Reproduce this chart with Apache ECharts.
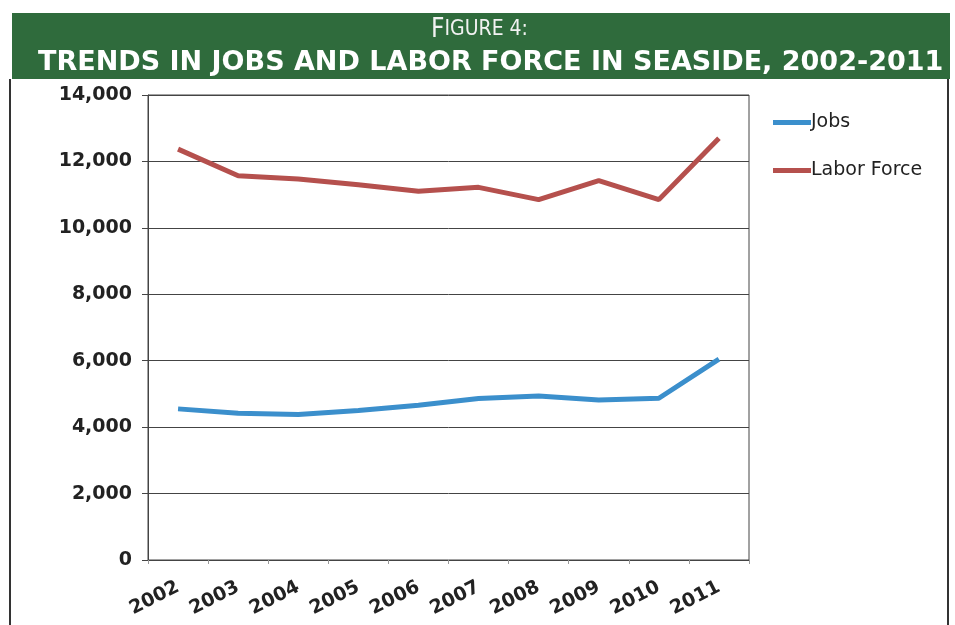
<!DOCTYPE html>
<html><head><meta charset="utf-8">
<script src="https://cdn.jsdelivr.net/npm/echarts@6/dist/echarts.min.js"></script>
<style>html,body{margin:0;padding:0;background:#fff}#c{width:955px;height:625px}</style>
</head><body><div id="c"></div>
<script>
const years = ['2002','2003','2004','2005','2006','2007','2008','2009','2010','2011'];
const jobs = [4550, 4420, 4380, 4500, 4660, 4860, 4940, 4820, 4870, 6050];
const laborForce = [12370, 11570, 11470, 11300, 11100, 11220, 10850, 11420, 10850, 12700];
const yTicks = [0, 2000, 4000, 6000, 8000, 10000, 12000, 14000];

const chart = echarts.init(document.getElementById('c'), null, {renderer:'canvas'});
chart.setOption({
  animation:false,
  backgroundColor:'#fff',
  graphic:[
    {type:'rect', shape:{x:12,y:13,width:938,height:66}, style:{fill:'#2f6b3c'}, z:0},
    {type:'line', shape:{x1:10,y1:79,x2:10,y2:625}, style:{stroke:'#333',lineWidth:2}},
    {type:'line', shape:{x1:948,y1:79,x2:948,y2:625}, style:{stroke:'#333',lineWidth:2}},
    {type:'text', left:431, top:17, z:5, style:{
      text:'{a|F}{b|IGURE 4:}', fill:'#fff',
      rich:{a:{fontFamily:'DejaVu Sans Condensed', fontSize:26, fill:'#f2f2f2'}, b:{fontFamily:'DejaVu Sans Condensed', fontSize:21, fill:'#f2f2f2'}}}},
    {type:'text', left:38, top:49, z:5, style:{
      text:'TRENDS IN JOBS AND LABOR FORCE IN SEASIDE, 2002-2011', fill:'#fff',
      font:'bold 27px "DejaVu Sans"'}}
  ],
  grid:{left:148, right:206, top:95, bottom:65, show:true, borderColor:'#444', borderWidth:1},
  legend:{
    orient:'vertical', left:768, top:108, itemGap:29, itemWidth:38, itemHeight:5,
    icon:'rect',
    textStyle:{fontFamily:'DejaVu Sans', fontSize:19, color:'#222', padding:[0,0,0,-5]},
    data:['Jobs','Labor Force']
  },
  xAxis:{
    type:'category', data:years, boundaryGap:true,
    axisLine:{lineStyle:{color:'#444'}},
    axisTick:{show:true, length:4, lineStyle:{color:'#999'}},
    axisLabel:{rotate:27, fontFamily:'DejaVu Sans', fontWeight:'bold', fontSize:19, color:'#222', margin:26}
  },
  yAxis:{
    type:'value', min:yTicks[0], max:yTicks[yTicks.length-1], interval:2000,
    axisLine:{show:true, lineStyle:{color:'#444'}},
    axisTick:{show:true, length:6, lineStyle:{color:'#444'}},
    splitLine:{lineStyle:{color:'#444', width:1}},
    axisLabel:{fontFamily:'DejaVu Sans', fontWeight:'bold', fontSize:19, color:'#222', margin:16,
      formatter:v=>v.toLocaleString('en-US')}
  },
  series:[
    {name:'Jobs', type:'line', data:jobs, symbol:'none', lineStyle:{width:5, color:'#3b8fcc'}, itemStyle:{color:'#3b8fcc'}},
    {name:'Labor Force', type:'line', data:laborForce, symbol:'none', lineStyle:{width:5, color:'#b5504d'}, itemStyle:{color:'#b5504d'}}
  ]
});
</script></body></html>
